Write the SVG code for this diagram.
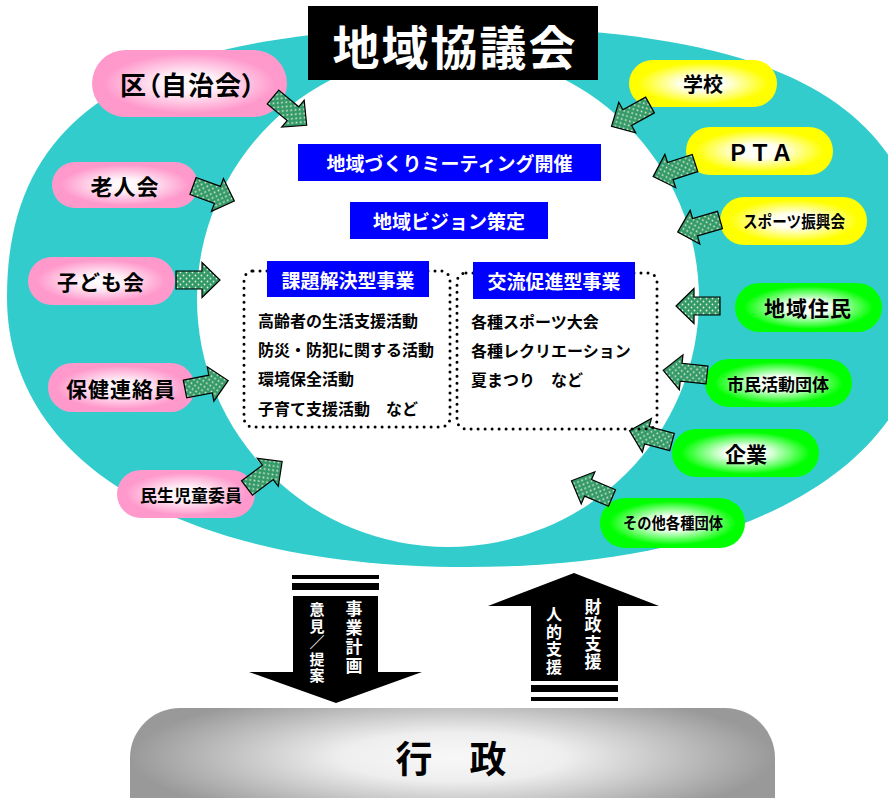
<svg xmlns="http://www.w3.org/2000/svg" xmlns:xlink="http://www.w3.org/1999/xlink" width="888" height="798" viewBox="0 0 888 798">
<style>
text{font-family:"Noto Sans CJK JP","Noto Sans CJK SC",sans-serif;font-weight:700}
.pt{fill:#000;text-anchor:middle;dominant-baseline:central}
.bt{fill:#fff;text-anchor:middle;dominant-baseline:central;font-size:19px}
.lt{fill:#000;font-size:16px}
.vt{fill:#fff;writing-mode:vertical-rl;text-anchor:start}
.dot{fill:none;stroke:#000;stroke-width:3;stroke-dasharray:0 7;stroke-linecap:round}
.blue{fill:#0000ff}
</style>
<defs>
<radialGradient id="gPink" cx="0.5" cy="0.5" r="0.5"><stop offset="0" stop-color="#ffffff"/><stop offset="0.3" stop-color="#fff0f7"/><stop offset="0.88" stop-color="#ff99cc"/></radialGradient>
<radialGradient id="gYel" cx="0.5" cy="0.5" r="0.5"><stop offset="0" stop-color="#ffffff"/><stop offset="0.3" stop-color="#fffff0"/><stop offset="0.88" stop-color="#ffff00"/></radialGradient>
<radialGradient id="gGrn" cx="0.5" cy="0.5" r="0.5"><stop offset="0" stop-color="#ffffff"/><stop offset="0.3" stop-color="#f0fff0"/><stop offset="0.88" stop-color="#00ff00"/></radialGradient>
<radialGradient id="gGray" cx="0.5" cy="0.35" r="0.5"><stop offset="0" stop-color="#f8f8f8"/><stop offset="0.35" stop-color="#eeeeee"/><stop offset="1" stop-color="#999999"/></radialGradient>
<pattern id="dots" width="6" height="6" patternUnits="userSpaceOnUse"><rect width="6" height="6" fill="#339966"/><circle cx="1.5" cy="1.5" r="0.9" fill="#ddeedd"/><circle cx="4.5" cy="4.5" r="0.9" fill="#ddeedd"/></pattern>
<path id="arr" d="M0,-9H26V-17.5L44,0L26,17.5V9H0Z" fill="url(#dots)" stroke="#000" stroke-width="1.2" stroke-linejoin="miter"/>
</defs>
<rect width="888" height="798" fill="#fff"/>
<g id="ring">
<path d="M7,297C7,108 145,27 467,27C789,27 927,108 927,297C927,464 752,567 467,567C182,567 7,464 7,297Z" fill="#33cccc"/>
<ellipse cx="448" cy="299" rx="251" ry="248" fill="#fff"/>
</g>
<g id="title"><rect x="308" y="6" width="290" height="74" fill="#000"/><text x="455" y="44" fill="#fff" font-size="47" text-anchor="middle" dominant-baseline="central" letter-spacing="2">地域協議会</text></g>
<g id="n-ku"><rect x="92" y="50" width="195" height="67" rx="33.5" fill="url(#gPink)"/><text class="pt" x="188" y="83" font-size="26" style="font-feature-settings:'palt'" letter-spacing="1">区（自治会）</text></g>
<g id="n-rojin"><rect x="52" y="162" width="146" height="46" rx="23" fill="url(#gPink)"/><text class="pt" x="125" y="185" font-size="22" letter-spacing="1">老人会</text></g>
<g id="n-kodomo"><rect x="28" y="257" width="147" height="48" rx="24" fill="url(#gPink)"/><text class="pt" x="101" y="281" font-size="21" letter-spacing="1">子ども会</text></g>
<g id="n-hoken"><rect x="48" y="363" width="147" height="49" rx="24.5" fill="url(#gPink)"/><text class="pt" x="121" y="388" font-size="21" letter-spacing="1">保健連絡員</text></g>
<g id="n-minsei"><rect x="117" y="470" width="138" height="48" rx="24" fill="url(#gPink)"/><text class="pt" x="191" y="494" font-size="17">民生児童委員</text></g>
<g id="n-gakko"><rect x="629" y="60" width="148" height="47" rx="23.5" fill="url(#gYel)"/><text class="pt" x="703" y="83" font-size="20">学校</text></g>
<g id="n-pta"><rect x="686" y="127" width="147" height="48" rx="24" fill="url(#gYel)"/><text class="pt" x="760" y="151" font-size="22">ＰＴＡ</text></g>
<g id="n-sports"><rect x="720" y="197" width="147" height="48" rx="24" fill="url(#gYel)"/><text class="pt" x="794" y="221" font-size="16.5" textLength="102" lengthAdjust="spacingAndGlyphs">スポーツ振興会</text></g>
<g id="n-jumin"><rect x="735" y="283" width="147" height="49" rx="24.5" fill="url(#gGrn)"/><text class="pt" x="808" y="307" font-size="21" letter-spacing="1">地域住民</text></g>
<g id="n-shimin"><rect x="705" y="359" width="147" height="48" rx="24" fill="url(#gGrn)"/><text class="pt" x="778" y="383" font-size="17">市民活動団体</text></g>
<g id="n-kigyo"><rect x="672" y="429" width="147" height="48" rx="24" fill="url(#gGrn)"/><text class="pt" x="746" y="453" font-size="21">企業</text></g>
<g id="n-sonota"><rect x="600" y="498" width="145" height="50" rx="25" fill="url(#gGrn)"/><text class="pt" x="673" y="522" font-size="15.5" textLength="100" lengthAdjust="spacingAndGlyphs">その他各種団体</text></g>
<g id="connectors">
<use xlink:href="#arr" transform="translate(273,97) rotate(40)"/>
<use xlink:href="#arr" transform="translate(193,186) rotate(20)"/>
<use xlink:href="#arr" transform="translate(176,280) rotate(0)"/>
<use xlink:href="#arr" transform="translate(185,389) rotate(-11)"/>
<use xlink:href="#arr" transform="translate(247,488) rotate(-37)"/>
<use xlink:href="#arr" transform="translate(650,105) rotate(151)"/>
<use xlink:href="#arr" transform="translate(695,163) rotate(162)"/>
<use xlink:href="#arr" transform="translate(720,220) rotate(164)"/>
<use xlink:href="#arr" transform="translate(720,306) rotate(180)"/>
<use xlink:href="#arr" transform="translate(707,375) rotate(186)"/>
<use xlink:href="#arr" transform="translate(672,442) rotate(195)"/>
<use xlink:href="#arr" transform="translate(612,498) rotate(203)"/>
</g>
<g id="meeting"><rect class="blue" x="298" y="144" width="303" height="37"/><text class="bt" x="449.5" y="162.5">地域づくりミーティング開催</text></g>
<g id="vision"><rect class="blue" x="350" y="202" width="198" height="37"/><text class="bt" x="449" y="220.5">地域ビジョン策定</text></g>
<g id="kadai">
<rect class="dot" x="244" y="271" width="206" height="156" rx="9"/>
<rect class="blue" x="267" y="261" width="162" height="36"/><text class="bt" x="348" y="279">課題解決型事業</text>
<text class="lt" x="258" y="327">高齢者の生活支援活動</text>
<text class="lt" x="258" y="356">防災・防犯に関する活動</text>
<text class="lt" x="258" y="385">環境保全活動</text>
<text class="lt" x="258" y="415">子育て支援活動　など</text>
</g>
<g id="koryu">
<rect class="dot" x="457" y="273" width="200" height="156" rx="9"/>
<rect class="blue" x="473" y="262" width="162" height="37"/><text class="bt" x="554" y="280.5">交流促進型事業</text>
<text class="lt" x="471" y="328">各種スポーツ大会</text>
<text class="lt" x="471" y="357">各種レクリエーション</text>
<text class="lt" x="471" y="386">夏まつり　など</text>
</g>
<g id="down-arrow">
<rect x="292" y="575" width="87" height="4" fill="#000"/><rect x="292" y="583" width="87" height="7" fill="#000"/>
<path d="M293,596H378V672H422L336,703L249,672H293Z" fill="#000"/>
<text class="vt" x="354" y="600.5" font-size="17" letter-spacing="2">事業計画</text>
<text class="vt" x="317" y="602" font-size="15" letter-spacing="1.5">意見／提案</text>
</g>
<g id="up-arrow">
<path d="M574,573L659,606H618V681H531V606H488Z" fill="#000"/>
<rect x="531" y="685" width="87" height="7" fill="#000"/><rect x="531" y="697" width="87" height="4" fill="#000"/>
<text class="vt" x="593" y="598" font-size="17" letter-spacing="1.5">財政支援</text>
<text class="vt" x="554" y="606" font-size="16" letter-spacing="1.5">人的支援</text>
</g>
<g id="gyosei"><rect x="130" y="708" width="645" height="140" rx="50" fill="url(#gGray)"/><text x="451" y="757" font-size="37" fill="#000" text-anchor="middle" dominant-baseline="central">行　政</text></g>
</svg>
